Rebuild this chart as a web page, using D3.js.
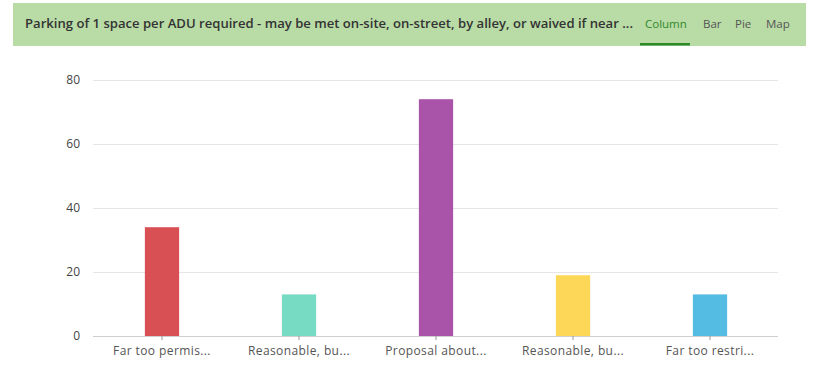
<!DOCTYPE html>
<html>
<head>
<meta charset="utf-8">
<style>
  body { margin: 0; background: #fff; font-family: "Open Sans", Lato, sans-serif; }
  .title { font-size: 13px; font-weight: 600; fill: #333; }
  .tab { font-size: 11.5px; fill: #555; }
  .tab.active { fill: #2f8a2a; }
  .axis text { font-family: "Open Sans", sans-serif; font-size: 12px; fill: #555; }
  .y.axis text { fill: #444; }
</style>
</head>
<body>
<svg id="chart" width="814" height="366"></svg>
<script src="https://cdn.jsdelivr.net/npm/d3@7"></script>
<script>
var categories = ['Far too permis...', 'Reasonable, bu...', 'Proposal about...', 'Reasonable, bu...', 'Far too restri...'];
var values = [34, 13, 74, 19, 13];
var colors = ['#d6474b', '#6fd9bf', '#a44aa4', '#fdd54f', '#4bb8e2'];
var yTicks = [0, 20, 40, 60, 80];
var tabs = ['Column', 'Bar', 'Pie', 'Map'];
var title = 'Parking of 1 space per ADU required - may be met on-site, on-street, by alley, or waived if near ...';

var svg = d3.select('#chart');

// header band
svg.append('rect').attr('x', 13).attr('y', 3).attr('width', 793).attr('height', 43).attr('fill', '#b9dba6');
svg.append('text').attr('class', 'title').attr('x', 25).attr('y', 28)
  .attr('textLength', 608).attr('lengthAdjust', 'spacingAndGlyphs').text(title);

var tabX = [645, 703, 735, 766];
svg.selectAll('.tab').data(tabs).enter().append('text')
  .attr('class', function(d, i) { return i === 0 ? 'tab active' : 'tab'; })
  .attr('x', function(d, i) { return tabX[i]; })
  .attr('y', 28)
  .text(function(d) { return d; });
svg.append('rect').attr('x', 640).attr('y', 43).attr('width', 50).attr('height', 2.5).attr('fill', '#2f8a2a');

var x = d3.scaleBand().domain(d3.range(categories.length)).range([93.5, 778.5]).paddingInner(0.75).paddingOuter(0.375);
var y = d3.scaleLinear().domain([0, 80]).range([336, 80]);

// grid
svg.append('g').selectAll('line').data(yTicks.slice(1)).enter().append('line')
  .attr('x1', 93).attr('x2', 778)
  .attr('y1', function(d) { return Math.round(y(d)) + 0.5; })
  .attr('y2', function(d) { return Math.round(y(d)) + 0.5; })
  .attr('stroke', '#e6e6e6');

var yAxis = svg.append('g').attr('class', 'y axis').attr('transform', 'translate(80,0)')
  .call(d3.axisLeft(y).tickValues(yTicks).tickSize(0).tickPadding(0));
yAxis.select('.domain').remove();

svg.selectAll('.bar').data(values).enter().append('rect')
  .attr('class', 'bar')
  .attr('x', function(d, i) { return x(i); })
  .attr('width', x.bandwidth())
  .attr('y', function(d) { return y(d); })
  .attr('height', function(d) { return y(0) - y(d); })
  .attr('fill', function(d, i) { return colors[i]; })
  .attr('fill-opacity', 0.95);

var xAxis = svg.append('g').attr('class', 'x axis').attr('transform', 'translate(0,336)')
  .call(d3.axisBottom(x).tickFormat(function(i) { return categories[i]; }).tickSize(4).tickPadding(6).tickSizeOuter(0));
xAxis.select('.domain').attr('stroke', '#cfcfcf').attr('d', 'M93,0.5H778');
xAxis.selectAll('.tick line').attr('stroke', '#999');
xAxis.selectAll('.tick text').attr('letter-spacing', '0.4px');
</script>
</body>
</html>
